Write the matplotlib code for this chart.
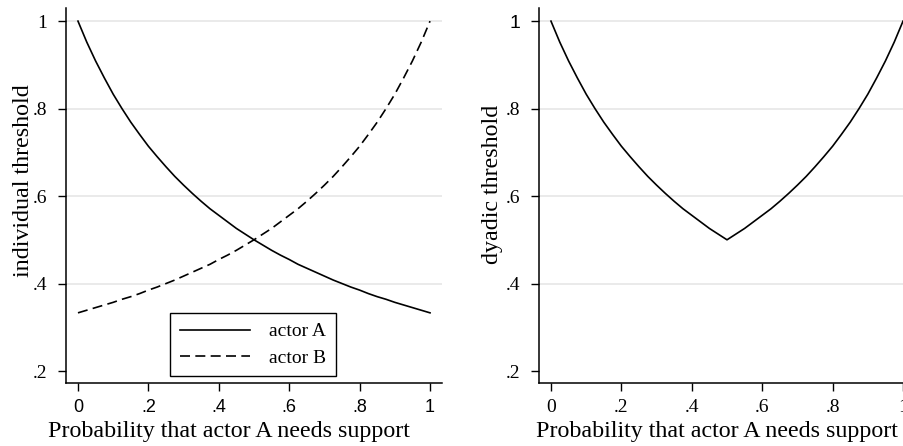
import matplotlib.pyplot as plt
from matplotlib.lines import Line2D

# probability that actor A needs support
p = [0.000, 0.025, 0.050, 0.075, 0.100, 0.125, 0.150, 0.175, 0.200, 0.225,
     0.250, 0.275, 0.300, 0.325, 0.350, 0.375, 0.400, 0.425, 0.450, 0.475,
     0.500, 0.525, 0.550, 0.575, 0.600, 0.625, 0.650, 0.675, 0.700, 0.725,
     0.750, 0.775, 0.800, 0.825, 0.850, 0.875, 0.900, 0.925, 0.950, 0.975, 1.000]

# individual thresholds
actor_a = [1.000, 0.952, 0.909, 0.870, 0.833, 0.800, 0.769, 0.741, 0.714, 0.690,
           0.667, 0.645, 0.625, 0.606, 0.588, 0.571, 0.556, 0.541, 0.526, 0.513,
           0.500, 0.488, 0.476, 0.465, 0.455, 0.444, 0.435, 0.426, 0.417, 0.408,
           0.400, 0.392, 0.385, 0.377, 0.370, 0.364, 0.357, 0.351, 0.345, 0.339, 0.333]
actor_b = [0.333, 0.339, 0.345, 0.351, 0.357, 0.364, 0.370, 0.377, 0.385, 0.392,
           0.400, 0.408, 0.417, 0.426, 0.435, 0.444, 0.455, 0.465, 0.476, 0.488,
           0.500, 0.513, 0.526, 0.541, 0.556, 0.571, 0.588, 0.606, 0.625, 0.645,
           0.667, 0.690, 0.714, 0.741, 0.769, 0.800, 0.833, 0.870, 0.909, 0.952, 1.000]

# dyadic threshold
dyadic = [1.000, 0.952, 0.909, 0.870, 0.833, 0.800, 0.769, 0.741, 0.714, 0.690,
          0.667, 0.645, 0.625, 0.606, 0.588, 0.571, 0.556, 0.541, 0.526, 0.513,
          0.500, 0.513, 0.526, 0.541, 0.556, 0.571, 0.588, 0.606, 0.625, 0.645,
          0.667, 0.690, 0.714, 0.741, 0.769, 0.800, 0.833, 0.870, 0.909, 0.952, 1.000]

x_ticks = [0, 0.2, 0.4, 0.6, 0.8, 1]
x_labels = ['0', '.2', '.4', '.6', '.8', '1']
y_ticks = [0.2, 0.4, 0.6, 0.8, 1]
y_labels = ['.2', '.4', '.6', '.8', '1']

serif = 'Liberation Serif'
sans = 'Liberation Sans'
W, H = 904, 446
DASH = (6, 3.2)

fig = plt.figure(figsize=(W / 100, H / 100), dpi=100)


def make_axes(left_px, xlabel, ylabel, xtick_font, xtick_size, ylabel_x, ylabel_y, xlabel_x):
    ax = fig.add_axes([left_px / W, (H - 383) / H, 376 / W, 375 / H])
    ax.set_xlim(-0.034, 1.034)
    ax.set_ylim(0.1726, 1.03)
    for s in ['top', 'right']:
        ax.spines[s].set_visible(False)
    for s in ['left', 'bottom']:
        ax.spines[s].set_linewidth(1.1)
    ax.set_xticks(x_ticks)
    ax.set_xticklabels(x_labels, fontfamily=xtick_font, fontsize=xtick_size)
    ax.set_yticks(y_ticks)
    ax.set_yticklabels(y_labels, fontfamily=serif, fontsize=14)
    ax.tick_params(length=5.5, width=1)
    ax.tick_params(axis='x', pad=6)
    ax.tick_params(axis='y', pad=8)
    for g in [0.4, 0.6, 0.8, 1.0]:
        ax.axhline(g, color='#e6e6e6', lw=1.2, zorder=0)
    ax.set_xlabel(xlabel, fontfamily=serif, fontsize=17.3)
    ax.set_ylabel(ylabel, fontfamily=serif, fontsize=17.3)
    ax.xaxis.set_label_coords(xlabel_x, -0.10)
    ax.yaxis.set_label_coords(ylabel_x, ylabel_y)
    return ax


ax1 = make_axes(66, 'Probability that actor A needs support', 'individual threshold',
                sans, 13, -0.085, 0.54, 0.434)
ax1.plot(p, actor_a, color='black', lw=1.2)
ax1.plot(p, actor_b, color='black', lw=1.2, dashes=DASH)

handles = [Line2D([], [], color='black', lw=1.2),
           Line2D([], [], color='black', lw=1.2, dashes=DASH)]
leg = ax1.legend(handles, ['actor A', 'actor B'], loc='upper left',
                 bbox_to_anchor=((170 - 66) / 376, (383 - 313) / 375),
                 borderaxespad=0, prop={'family': serif, 'size': 14},
                 handlelength=3.6, handletextpad=1.0, borderpad=0.5,
                 labelspacing=0.45, fancybox=False, edgecolor='black', framealpha=1)
leg.get_frame().set_linewidth(1.0)

ax2 = make_axes(539, 'Probability that actor A needs support', 'dyadic threshold',
                serif, 14, -0.096, 0.53, 0.473)
ax2.plot(p, dyadic, color='black', lw=1.2, clip_on=False)
# the "1" on the right y axis is set in a sans face
ax2.get_yticklabels()[-1].set_fontfamily(sans)

fig.savefig('out.png', dpi=100)
